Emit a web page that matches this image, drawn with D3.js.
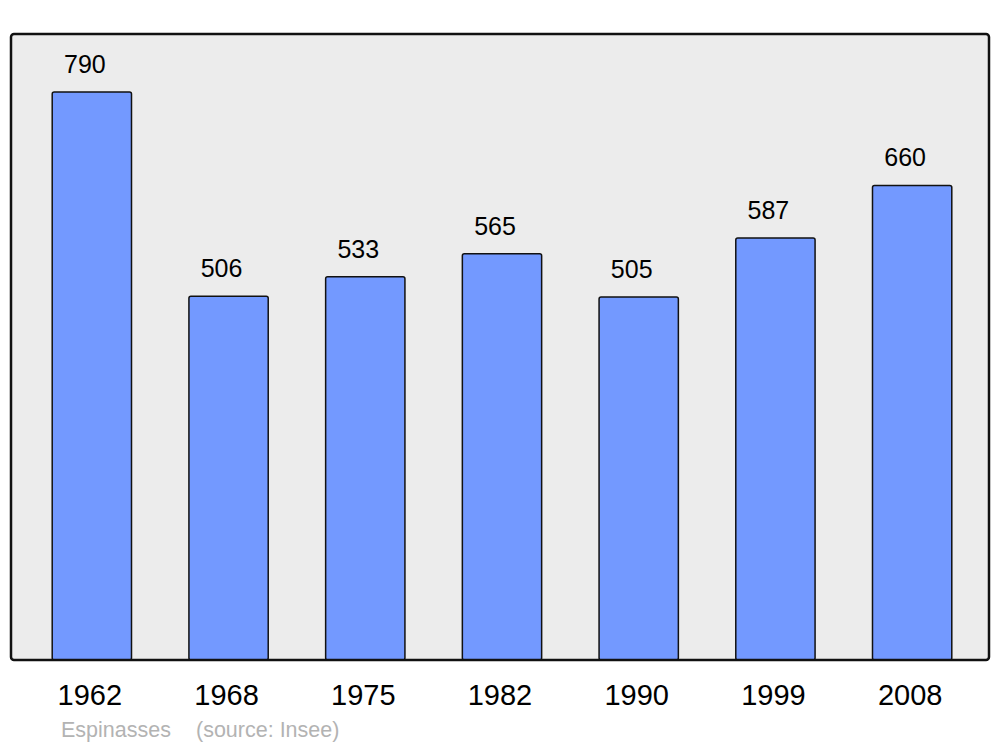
<!DOCTYPE html>
<html lang="en">
<head>
<meta charset="UTF-8">
<title>Espinasses population</title>
<script src="https://d3js.org/d3.v7.min.js"></script>
<style>
    body { margin: 0; background: white; }
    text { font-family: "Liberation Sans", Arial, sans-serif; }
    .frame { fill: #ececec; stroke: none; }
    .frame-edge { fill: none; stroke: #111; stroke-width: 2.5px; }
    .bar { fill: #7399ff; stroke: #111; stroke-width: 1.5px; }
    .value { font-size: 25px; fill: black; text-anchor: middle; }
    .year { font-size: 29px; fill: black; text-anchor: middle; }
    .caption { font-size: 21.5px; fill: #b3b3b3; }
</style>
</head>
<body>
<svg id="chart" width="1000" height="747"></svg>
<script>
    const years = ["1962", "1968", "1975", "1982", "1990", "1999", "2008"];
    const population = [790, 506, 533, 565, 505, 587, 660];
    const commune = "Espinasses";
    const source = "(source: Insee)";

    const svg = d3.select("#chart");

    const x = d3.scaleBand()
                .domain(years)
                .range([23.5, 980.5])
                .paddingInner(0.42)
                .paddingOuter(0.21);

    const y = d3.scaleLinear()
                .domain([0, 790])
                .range([660, 92]);

    // plot background
    svg.append("rect")
    .attr("class", "frame")
    .attr("x", 11)
    .attr("y", 34)
    .attr("width", 978)
    .attr("height", 626)
    .attr("rx", 3);

    // bars
    svg.selectAll(".bar")
    .data(years)
    .enter()
    .append("rect")
    .attr("class", "bar")
    .attr("x", d => x(d))
    .attr("y", (d, i) => y(population[i]))
    .attr("width", x.bandwidth())
    .attr("height", (d, i) => y(0) - y(population[i]))
    .attr("rx", 2);

    // frame border on top of bars
    svg.append("rect")
    .attr("class", "frame-edge")
    .attr("x", 11)
    .attr("y", 34)
    .attr("width", 978)
    .attr("height", 626)
    .attr("rx", 3);

    // value labels
    svg.selectAll(".value")
    .data(years)
    .enter()
    .append("text")
    .attr("class", "value")
    .attr("x", d => x(d) + x.bandwidth() / 2 - 7)
    .attr("y", (d, i) => y(population[i]) - 19)
    .text((d, i) => population[i]);

    // year labels
    svg.selectAll(".year")
    .data(years)
    .enter()
    .append("text")
    .attr("class", "year")
    .attr("x", d => x(d) + x.bandwidth() / 2 - 2)
    .attr("y", 705)
    .text(d => d);

    svg.append("text")
    .attr("class", "caption")
    .attr("x", 61)
    .attr("y", 737)
    .text(commune);

    svg.append("text")
    .attr("class", "caption")
    .attr("x", 196)
    .attr("y", 737)
    .text(source);
</script>
</body>
</html>
